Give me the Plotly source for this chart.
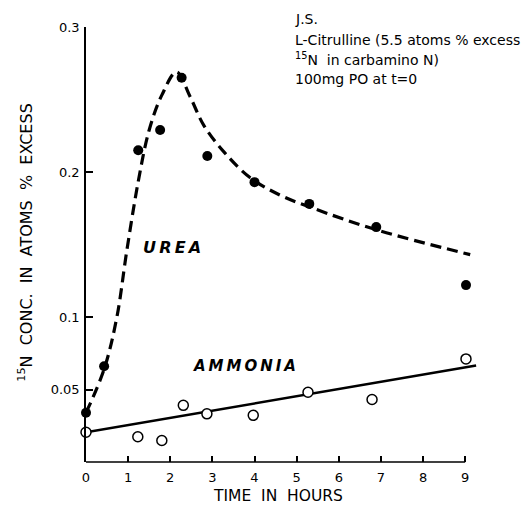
import plotly.graph_objects as go

# --- data ---
urea_t = [0, 0.43, 1.24, 1.76, 2.27, 2.88, 4.0, 5.3, 6.89, 9.02]
urea_v = [0.034, 0.066, 0.215, 0.229, 0.265, 0.211, 0.193, 0.178, 0.162, 0.122]

ammonia_t = [0, 1.23, 1.8, 2.31, 2.87, 3.97, 5.27, 6.79, 9.02]
ammonia_v = [0.0205, 0.0174, 0.0148, 0.0391, 0.0332, 0.0322, 0.0481, 0.0431, 0.0711]

urea_curve_t = [0, 0.43, 0.73, 0.97, 1.25, 1.5, 1.8, 2.15, 2.47, 2.8, 3.3, 3.9,
                4.61, 5.39, 6.91, 9.12]
urea_curve_v = [0.034, 0.064, 0.0995, 0.146, 0.195, 0.229, 0.253, 0.269, 0.252, 0.232,
                0.213, 0.196, 0.184, 0.175, 0.16, 0.143]

ammonia_line_t = [0, 9.26]
ammonia_line_v = [0.0205, 0.0665]

y_tickvals = [0.05, 0.1, 0.2, 0.3]
y_ticktext = ["0.05", "0.1", "0.2", "0.3"]
x_tickvals = list(range(0, 10))

# --- layout geometry (pixels) ---
W, H = 528, 506
L, R = 86, 481.7
T, B = 27, 462.5


def px(x):
    return (x - L) / (R - L)


def py(y):
    return (B - y) / (B - T)


FONT = "DejaVu Sans"
TS = "\u2009"  # thin space used as letter spacing
NB = "\u00a0"

fig = go.Figure()

fig.add_trace(go.Scatter(
    x=urea_curve_t, y=urea_curve_v, mode="lines",
    line=dict(color="black", width=3.2, dash="11px,6px", shape="spline", smoothing=1.0),
    hoverinfo="skip", showlegend=False))

fig.add_trace(go.Scatter(
    x=ammonia_line_t, y=ammonia_line_v, mode="lines",
    line=dict(color="black", width=2.5),
    hoverinfo="skip", showlegend=False))

fig.add_trace(go.Scatter(
    x=urea_t, y=urea_v, mode="markers", name="Urea",
    marker=dict(color="black", size=10, line=dict(width=0)),
    cliponaxis=False, showlegend=False))

fig.add_trace(go.Scatter(
    x=ammonia_t, y=ammonia_v, mode="markers", name="Ammonia",
    marker=dict(color="white", size=10, line=dict(color="black", width=1.5)),
    cliponaxis=False, showlegend=False))

# x-axis baseline from 0 to 9
fig.add_shape(type="line", xref="x", yref="paper", x0=0, x1=9, y0=0, y1=0,
              line=dict(color="black", width=1.5))

annotations = [
    dict(text="J.S.", x=px(293), y=py(19)),
    dict(text="L-Citrulline (5.5 atoms % excess", x=px(293), y=py(40)),
    dict(text="<sup>15</sup>N  in carbamino N)", x=px(293), y=py(59)),
    dict(text="100mg PO at t=0", x=px(293), y=py(79)),
]
anns = []
for a in annotations:
    anns.append(dict(text=a["text"], x=a["x"], y=a["y"], xref="paper", yref="paper",
                     xanchor="left", yanchor="middle", showarrow=False,
                     font=dict(family=FONT, size=14, color="black")))


def spaced(s):
    return TS.join(list(s))


anns.append(dict(text="<b><i>" + spaced("UREA") + "</i></b>", x=px(172), y=py(248),
                 xref="paper", yref="paper", xanchor="center", yanchor="middle",
                 showarrow=False, font=dict(family=FONT, size=16, color="black")))
anns.append(dict(text="<b><i>" + spaced("AMMONIA") + "</i></b>", x=px(244), y=py(366),
                 xref="paper", yref="paper", xanchor="center", yanchor="middle",
                 showarrow=False, font=dict(family=FONT, size=15, color="black")))
anns.append(dict(text="TIME" + NB + " IN" + NB + " HOURS", x=px(278), y=py(497),
                 xref="paper", yref="paper", xanchor="center", yanchor="middle",
                 showarrow=False, font=dict(family=FONT, size=15.5, color="black")))
anns.append(dict(text="<sup>15</sup>N" + NB + " CONC." + NB + " IN" + NB + " ATOMS"
                      + NB + " %" + NB + " EXCESS",
                 x=px(26), y=py(242),
                 xref="paper", yref="paper", textangle=-90,
                 xanchor="center", yanchor="middle", showarrow=False,
                 font=dict(family=FONT, size=16, color="black")))

fig.update_layout(
    width=W, height=H,
    margin=dict(l=L, r=W - R, t=T, b=H - B, pad=0),
    paper_bgcolor="white", plot_bgcolor="white",
    showlegend=False,
    annotations=anns,
    xaxis=dict(range=[0, 9.4], tickvals=x_tickvals, ticks="inside", ticklen=6,
               tickwidth=1.5, tickcolor="black", showline=False, showgrid=False,
               zeroline=False, ticklabelstandoff=6,
               tickfont=dict(family=FONT, size=13, color="black")),
    yaxis=dict(range=[0, 0.3], tickvals=y_tickvals, ticktext=y_ticktext,
               ticks="inside", ticklen=7, tickwidth=1.5, tickcolor="black",
               showline=True, linecolor="black", linewidth=1.5, showgrid=False,
               zeroline=False, ticklabelstandoff=2,
               tickfont=dict(family=FONT, size=13, color="black")),
)

fig.write_html("out.html")
